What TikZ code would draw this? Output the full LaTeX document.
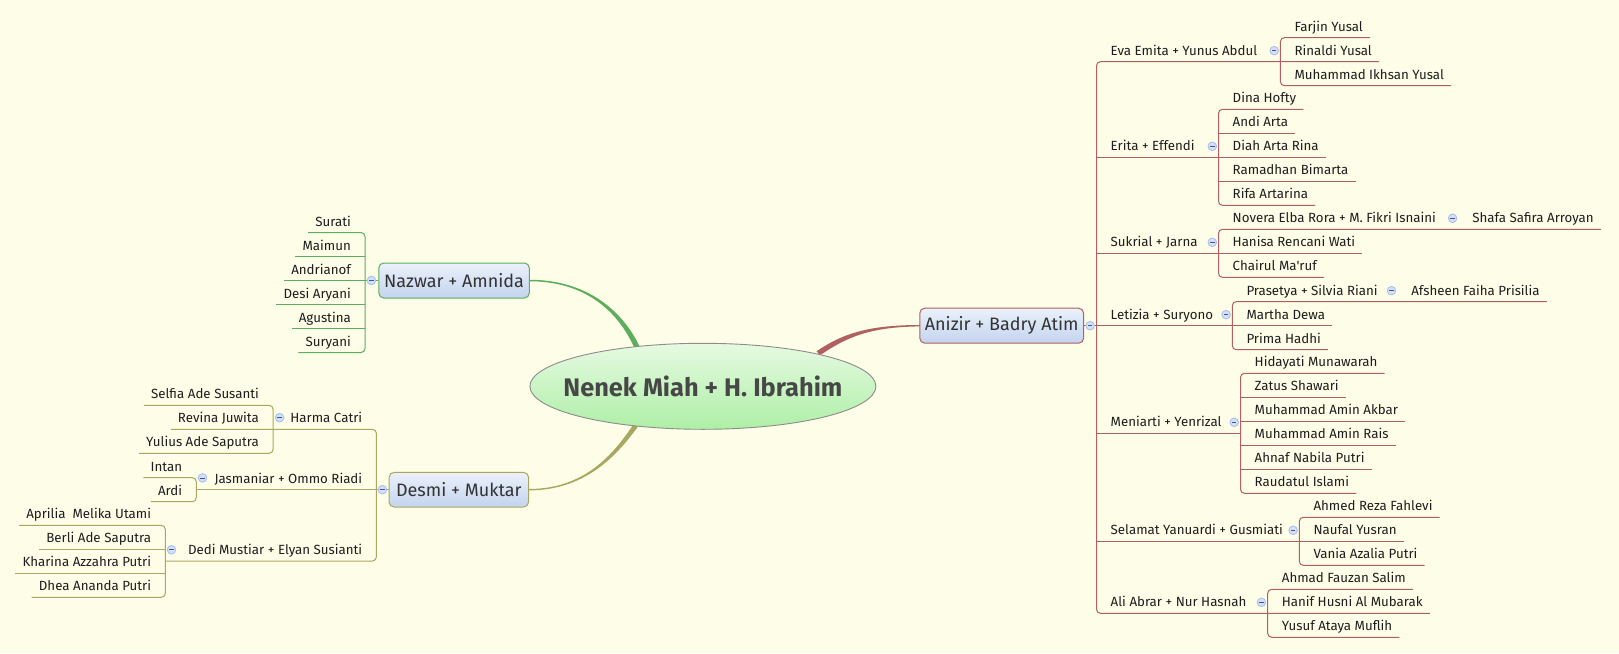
\documentclass[tikz,border=0pt]{standalone}
\usepackage{fontspec}
\newfontfamily\uifont{Fira Sans}
\usetikzlibrary{calc,shapes.geometric}
\definecolor{bg}{HTML}{FDFDE8}
\definecolor{redl}{HTML}{B0605E}
\definecolor{greenl}{HTML}{5CAD5C}
\definecolor{olivel}{HTML}{A9A862}
\definecolor{boxtop}{HTML}{EBF1FB}
\definecolor{boxbot}{HTML}{C3D4EE}
\definecolor{eltop}{HTML}{E6FAE2}
\definecolor{elbot}{HTML}{AEEFA6}
\definecolor{circfill}{HTML}{D3E0F8}
\definecolor{circdraw}{HTML}{A6BEE8}
\definecolor{txt}{HTML}{1E1E1E}
\newcommand\leafR[4]{\node[leaf,anchor=base west] (#1) at (#2+7,#3-6.5) {#4};}
\newcommand\leafL[4]{\node[leaf,anchor=base east] (#1) at (#2-7,#3-6.5) {#4};}
\begin{document}
\begin{tikzpicture}[x=1pt,y=-1pt,
  leaf/.style={inner xsep=7pt,inner ysep=0pt,font=\uifont\fontsize{13.3}{15}\selectfont,text=txt},
  mbox/.style={rounded corners=5pt,top color=boxtop,bottom color=boxbot,line width=1pt,
     font=\uifont\fontsize{18}{20}\selectfont,text=black!80,inner sep=0pt},
  collapse/.style={circle,minimum size=8.6pt,inner sep=0pt,fill=circfill,draw=circdraw,line width=0.8pt,
     path picture={\draw[circdraw!60!blue!70!black,line width=0.7pt]
       ([xshift=-2.2pt]path picture bounding box.center) -- ([xshift=2.2pt]path picture bounding box.center);}},
  rl/.style={draw=redl,line width=1pt},
  gl/.style={draw=greenl,line width=1pt},
  ol/.style={draw=olivel,line width=1pt},
  rc/.style={rounded corners=4pt}]
\fill[bg] (0,0) rectangle (1619,653);
\useasboundingbox (0,0) rectangle (1619,653);

% ---------- main boxes ----------
\node[mbox,draw=redl,minimum width=163.8pt,minimum height=35pt] (anizir) at (1001.7,325.7) {Anizir + Badry Atim};
\node[mbox,draw=greenl,minimum width=150.5pt,minimum height=35pt] (nazwar) at (454.05,280.5) {Nazwar + Amnida};
\node[mbox,draw=olivel,minimum width=139.5pt,minimum height=34.6pt] (desmi) at (458.85,489.7) {Desmi + Muktar};

% ---------- tapered main connectors ----------
\fill[greenl] (529.3,279.75) .. controls (585,279.75) and (622,309.2) .. (639.6,346.6)
  -- (634.8,348.8) .. controls (618,310.8) and (585,281.25) .. (529.3,281.25) -- cycle;
\fill[redl] (816.7,351.2) .. controls (843.5,332.9) and (870,325.1) .. (919.8,325.0)
  -- (919.8,326.4) .. controls (870,326.9) and (846.5,337.1) .. (819.7,355.5) -- cycle;
\fill[olivel] (528.6,489.0) .. controls (585,489.0) and (613.5,454) .. (633.7,424.1)
  -- (637.7,426.9) .. controls (616.5,456) and (585,490.4) .. (528.6,490.4) -- cycle;

% ---------- central topic ----------
\node[ellipse,draw=black!45,line width=0.9pt,top color=eltop,bottom color=elbot,
  minimum width=346pt,minimum height=86pt,inner sep=0pt] (root) at (702.9,386.3) {};
\node[inner sep=0pt,font=\uifont\bfseries\fontsize{25.4}{28}\selectfont,text=black!72] (roottext) at (root.center) {Nenek Miah + H. Ibrahim};

% ================= RIGHT: Anizir =================
\leafR{eva}{1096.5}{61.7}{Eva Emita + Yunus Abdul}
\leafR{erita}{1096.5}{157.3}{Erita + Effendi}
\leafR{sukrial}{1096.5}{253.3}{Sukrial + Jarna}
\leafR{letizia}{1096.5}{325.7}{Letizia + Suryono}
\leafR{meniarti}{1096.5}{433.3}{Meniarti + Yenrizal}
\leafR{selamat}{1096.5}{541.3}{Selamat Yanuardi + Gusmiati}
\leafR{ali}{1096.5}{613.3}{Ali Abrar + Nur Hasnah}

\leafR{farjin}{1280.4}{37.7}{Farjin Yusal}
\leafR{rinaldi}{1280.4}{61.7}{Rinaldi Yusal}
\leafR{ikhsan}{1280.4}{85.7}{Muhammad Ikhsan Yusal}

\leafR{dina}{1218.5}{109.3}{Dina Hofty}
\leafR{andi}{1218.5}{133.3}{Andi Arta}
\leafR{diah}{1218.5}{157.3}{Diah Arta Rina}
\leafR{ramadhan}{1218.5}{181.3}{Ramadhan Bimarta}
\leafR{rifa}{1218.5}{205.3}{Rifa Artarina}

\leafR{novera}{1218.5}{229.3}{Novera Elba Rora + M. Fikri Isnaini}
\leafR{hanisa}{1218.5}{253.3}{Hanisa Rencani Wati}
\leafR{chairul}{1218.5}{277.3}{Chairul Ma'ruf}

\leafR{prasetya}{1232.3}{301.7}{Prasetya + Silvia Riani}
\leafR{martha}{1232.3}{325.7}{Martha Dewa}
\leafR{prima}{1232.3}{349.7}{Prima Hadhi}

\leafR{hidayati}{1240.5}{373.3}{Hidayati Munawarah}
\leafR{zatus}{1240.5}{397.3}{Zatus Shawari}
\leafR{akbar}{1240.5}{421.3}{Muhammad Amin Akbar}
\leafR{rais}{1240.5}{445.3}{Muhammad Amin Rais}
\leafR{ahnaf}{1240.5}{469.3}{Ahnaf Nabila Putri}
\leafR{raudatul}{1240.5}{493.3}{Raudatul Islami}

\leafR{ahmed}{1299.3}{517.3}{Ahmed Reza Fahlevi}
\leafR{naufal}{1299.3}{541.3}{Naufal Yusran}
\leafR{vania}{1299.3}{565.3}{Vania Azalia Putri}

\leafR{fauzan}{1267.7}{589.3}{Ahmad Fauzan Salim}
\leafR{hanif}{1267.7}{613.3}{Hanif Husni Al Mubarak}
\leafR{yusuf}{1267.7}{637.3}{Yusuf Ataya Muflih}

% third level
\node[collapse] (cnovera) at ($(novera.east |- 0,218.3)+(9.5,0)$) {};
\node[leaf,anchor=base west] (shafa) at ($(cnovera.center |- 0,222.8)+(12.6,0)$) {Shafa Safira Arroyan};
\node[collapse] (cprasetya) at ($(prasetya.east |- 0,290.7)+(6.7,0)$) {};
\node[leaf,anchor=base west] (afsheen) at ($(cprasetya.center |- 0,295.2)+(12.6,0)$) {Afsheen Faiha Prisilia};

% lines right
\draw[rl,rc] (rinaldi.east |- 0,61.7) -- (1096.5,61.7) -- (1096.5,613.3) -- (hanif.east |- 0,613.3);
\draw[rl] (anizir.east) -- (martha.east |- 0,325.7);
\draw[rl,rc] (farjin.east |- 0,37.7) -- (1280.4,37.7) -- (1280.4,85.7) -- (ikhsan.east |- 0,85.7);
\draw[rl] (1096.5,157.3) -- (diah.east |- 0,157.3);
\draw[rl,rc] (dina.east |- 0,109.3) -- (1218.5,109.3) -- (1218.5,205.3) -- (rifa.east |- 0,205.3);
\draw[rl] (1218.5,133.3) -- (andi.east |- 0,133.3);
\draw[rl] (1218.5,181.3) -- (ramadhan.east |- 0,181.3);
\draw[rl] (1096.5,253.3) -- (hanisa.east |- 0,253.3);
\draw[rl,rc] (shafa.east |- 0,229.3) -- (1218.5,229.3) -- (1218.5,277.3) -- (chairul.east |- 0,277.3);
\draw[rl,rc] (afsheen.east |- 0,301.7) -- (1232.3,301.7) -- (1232.3,349.7) -- (prima.east |- 0,349.7);
\draw[rl] (1096.5,433.3) -- (1240.5,433.3);
\draw[rl,rc] (hidayati.east |- 0,373.3) -- (1240.5,373.3) -- (1240.5,493.3) -- (raudatul.east |- 0,493.3);
\draw[rl] (1240.5,397.3) -- (zatus.east |- 0,397.3);
\draw[rl] (1240.5,421.3) -- (akbar.east |- 0,421.3);
\draw[rl] (1240.5,445.3) -- (rais.east |- 0,445.3);
\draw[rl] (1240.5,469.3) -- (ahnaf.east |- 0,469.3);
\draw[rl] (1096.5,541.3) -- (naufal.east |- 0,541.3);
\draw[rl,rc] (ahmed.east |- 0,517.3) -- (1299.3,517.3) -- (1299.3,565.3) -- (vania.east |- 0,565.3);
\draw[rl,rc] (fauzan.east |- 0,589.3) -- (1267.7,589.3) -- (1267.7,637.3) -- (yusuf.east |- 0,637.3);

\node[collapse] (canizir) at (1090.1,325.7) {};
\node[collapse] (ceva) at (1274.2,50.7) {};
\node[collapse] (cerita) at (1212.3,146.3) {};
\node[collapse] (csukrial) at (1212.3,242.3) {};
\node[collapse] (cletizia) at (1226.1,314.7) {};
\node[collapse] (cmeniarti) at (1234.2,422.3) {};
\node[collapse] (cselamat) at (1293.1,530.3) {};
\node[collapse] (cali) at (1261.4,602.3) {};

% ================= LEFT TOP: Nazwar =================
\leafL{surati}{365}{232.5}{Surati}
\leafL{maimun}{365}{256.5}{Maimun}
\leafL{andrianof}{365}{280.5}{Andrianof}
\leafL{desi}{365}{304.5}{Desi Aryani}
\leafL{agustina}{365}{328.5}{Agustina\hspace{3pt}}
\leafL{suryani}{365}{352.5}{Suryani}
\draw[gl] (nazwar.west) -- (andrianof.west |- 0,280.5);
\draw[gl,rc] (surati.west |- 0,232.5) -- (365,232.5) -- (365,352.5) -- (suryani.west |- 0,352.5);
\draw[gl] (365,256.5) -- (maimun.west |- 0,256.5);
\draw[gl] (365,304.5) -- (desi.west |- 0,304.5);
\draw[gl] (365,328.5) -- (agustina.west |- 0,328.5);
\node[collapse] (cnazwar) at (371.4,280.5) {};

% ================= LEFT BOTTOM: Desmi =================
\leafL{harma}{376.4}{429.3}{Harma Catri}
\leafL{jasmaniar}{376.4}{489.7}{Jasmaniar + Ommo Riadi}
\leafL{dedi}{376.4}{561.0}{Dedi Mustiar + Elyan Susianti\hspace{2pt}}

\leafL{selfia}{273.1}{405.3}{Selfia Ade Susanti}
\leafL{revina}{273.1}{429.3}{Revina Juwita}
\leafL{yulius}{273.1}{453.3}{Yulius Ade Saputra}

\leafL{intan}{196.3}{477.7}{Intan}
\leafL{ardi}{196.3}{501.7}{Ardi}

\leafL{aprilia}{165.3}{525.3}{Aprilia\ \ Melika Utami}
\leafL{berli}{165.3}{549.3}{Berli Ade Saputra}
\leafL{kharina}{165.3}{573.3}{Kharina Azzahra Putri}
\leafL{dhea}{165.3}{597.3}{Dhea Ananda Putri}

\draw[ol,rc] (revina.west |- 0,429.3) -- (376.4,429.3) -- (376.4,561.0) -- (165.3,561.0);
\draw[ol] (desmi.west) -- (196.3,489.7);
\draw[ol,rc] (selfia.west |- 0,405.3) -- (273.1,405.3) -- (273.1,453.3) -- (yulius.west |- 0,453.3);
\draw[ol,rc] (intan.west |- 0,477.7) -- (196.3,477.7) -- (196.3,501.7) -- (ardi.west |- 0,501.7);
\draw[ol,rc] (aprilia.west |- 0,525.3) -- (165.3,525.3) -- (165.3,597.3) -- (dhea.west |- 0,597.3);
\draw[ol] (165.3,549.3) -- (berli.west |- 0,549.3);
\draw[ol] (165.3,573.3) -- (kharina.west |- 0,573.3);

\node[collapse] (cdesmi) at (382.4,489.7) {};
\node[collapse] (charma) at (279.6,417.7) {};
\node[collapse] (cjasmaniar) at (202.5,477.9) {};
\node[collapse] (cdedi) at (171.5,549.8) {};
\end{tikzpicture}
\end{document}
